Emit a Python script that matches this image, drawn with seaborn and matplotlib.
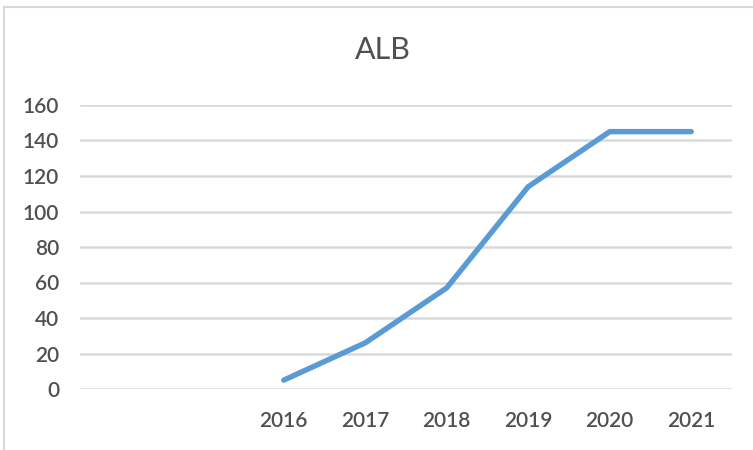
import numpy as np
import matplotlib
matplotlib.use("Agg")
import matplotlib.pyplot as plt
import seaborn as sns
from matplotlib.lines import Line2D

# categories (two empty slots before 2016, as in the original chart)
years = ["", "", "2016", "2017", "2018", "2019", "2020", "2021"]
values = [np.nan, np.nan, 5, 26, 57, 114, 145, 145]
y_ticks = [0, 20, 40, 60, 80, 100, 120, 140, 160]

sns.set_theme(style="white")
plt.rcParams['font.family'] = ['Lato', 'DejaVu Sans']

text_color = "#505050"
grid_color = "#D9D9D9"
line_color = "#5B9BD5"

fig = plt.figure(figsize=(7.53, 4.5), dpi=100)
ax = fig.add_axes([80 / 753, 1 - 389 / 450, (732 - 80) / 753, (389 - 105) / 450])

pos = np.arange(len(years))
sns.lineplot(x=pos, y=values, ax=ax, color=line_color, linewidth=3.9)
for ln in ax.get_lines():
    ln.set_solid_capstyle("round")
    ln.set_solid_joinstyle("round")

ax.set_xlim(-0.5, len(years) - 0.5)
ax.set_ylim(0, 160)
ax.set_yticks(y_ticks)
ax.set_xticks(pos)
ax.set_xticklabels(years)
ax.yaxis.grid(True, color=grid_color, linewidth=1.8)
ax.set_axisbelow(True)
for s in ax.spines.values():
    s.set_visible(False)
ax.tick_params(axis="both", length=0, labelsize=15, colors=text_color)
for lbl in ax.get_xticklabels() + ax.get_yticklabels():
    lbl.set_fontweight("semibold")
ax.tick_params(axis="x", pad=16)
ax.tick_params(axis="y", pad=15)
ax.set_xlabel("")
ax.set_ylabel("")

fig.text(383 / 753, 1 - 50 / 450, "ALB", ha="center", va="center",
         fontsize=22, color=text_color)

# chart frame
fig.add_artist(Line2D([4 / 753, 4 / 753], [0, 1 - 7 / 450], color=grid_color, linewidth=1.5))
fig.add_artist(Line2D([4 / 753, 1], [1 - 7 / 450, 1 - 7 / 450], color=grid_color, linewidth=1.5))

fig.savefig("out.png", dpi=100)
